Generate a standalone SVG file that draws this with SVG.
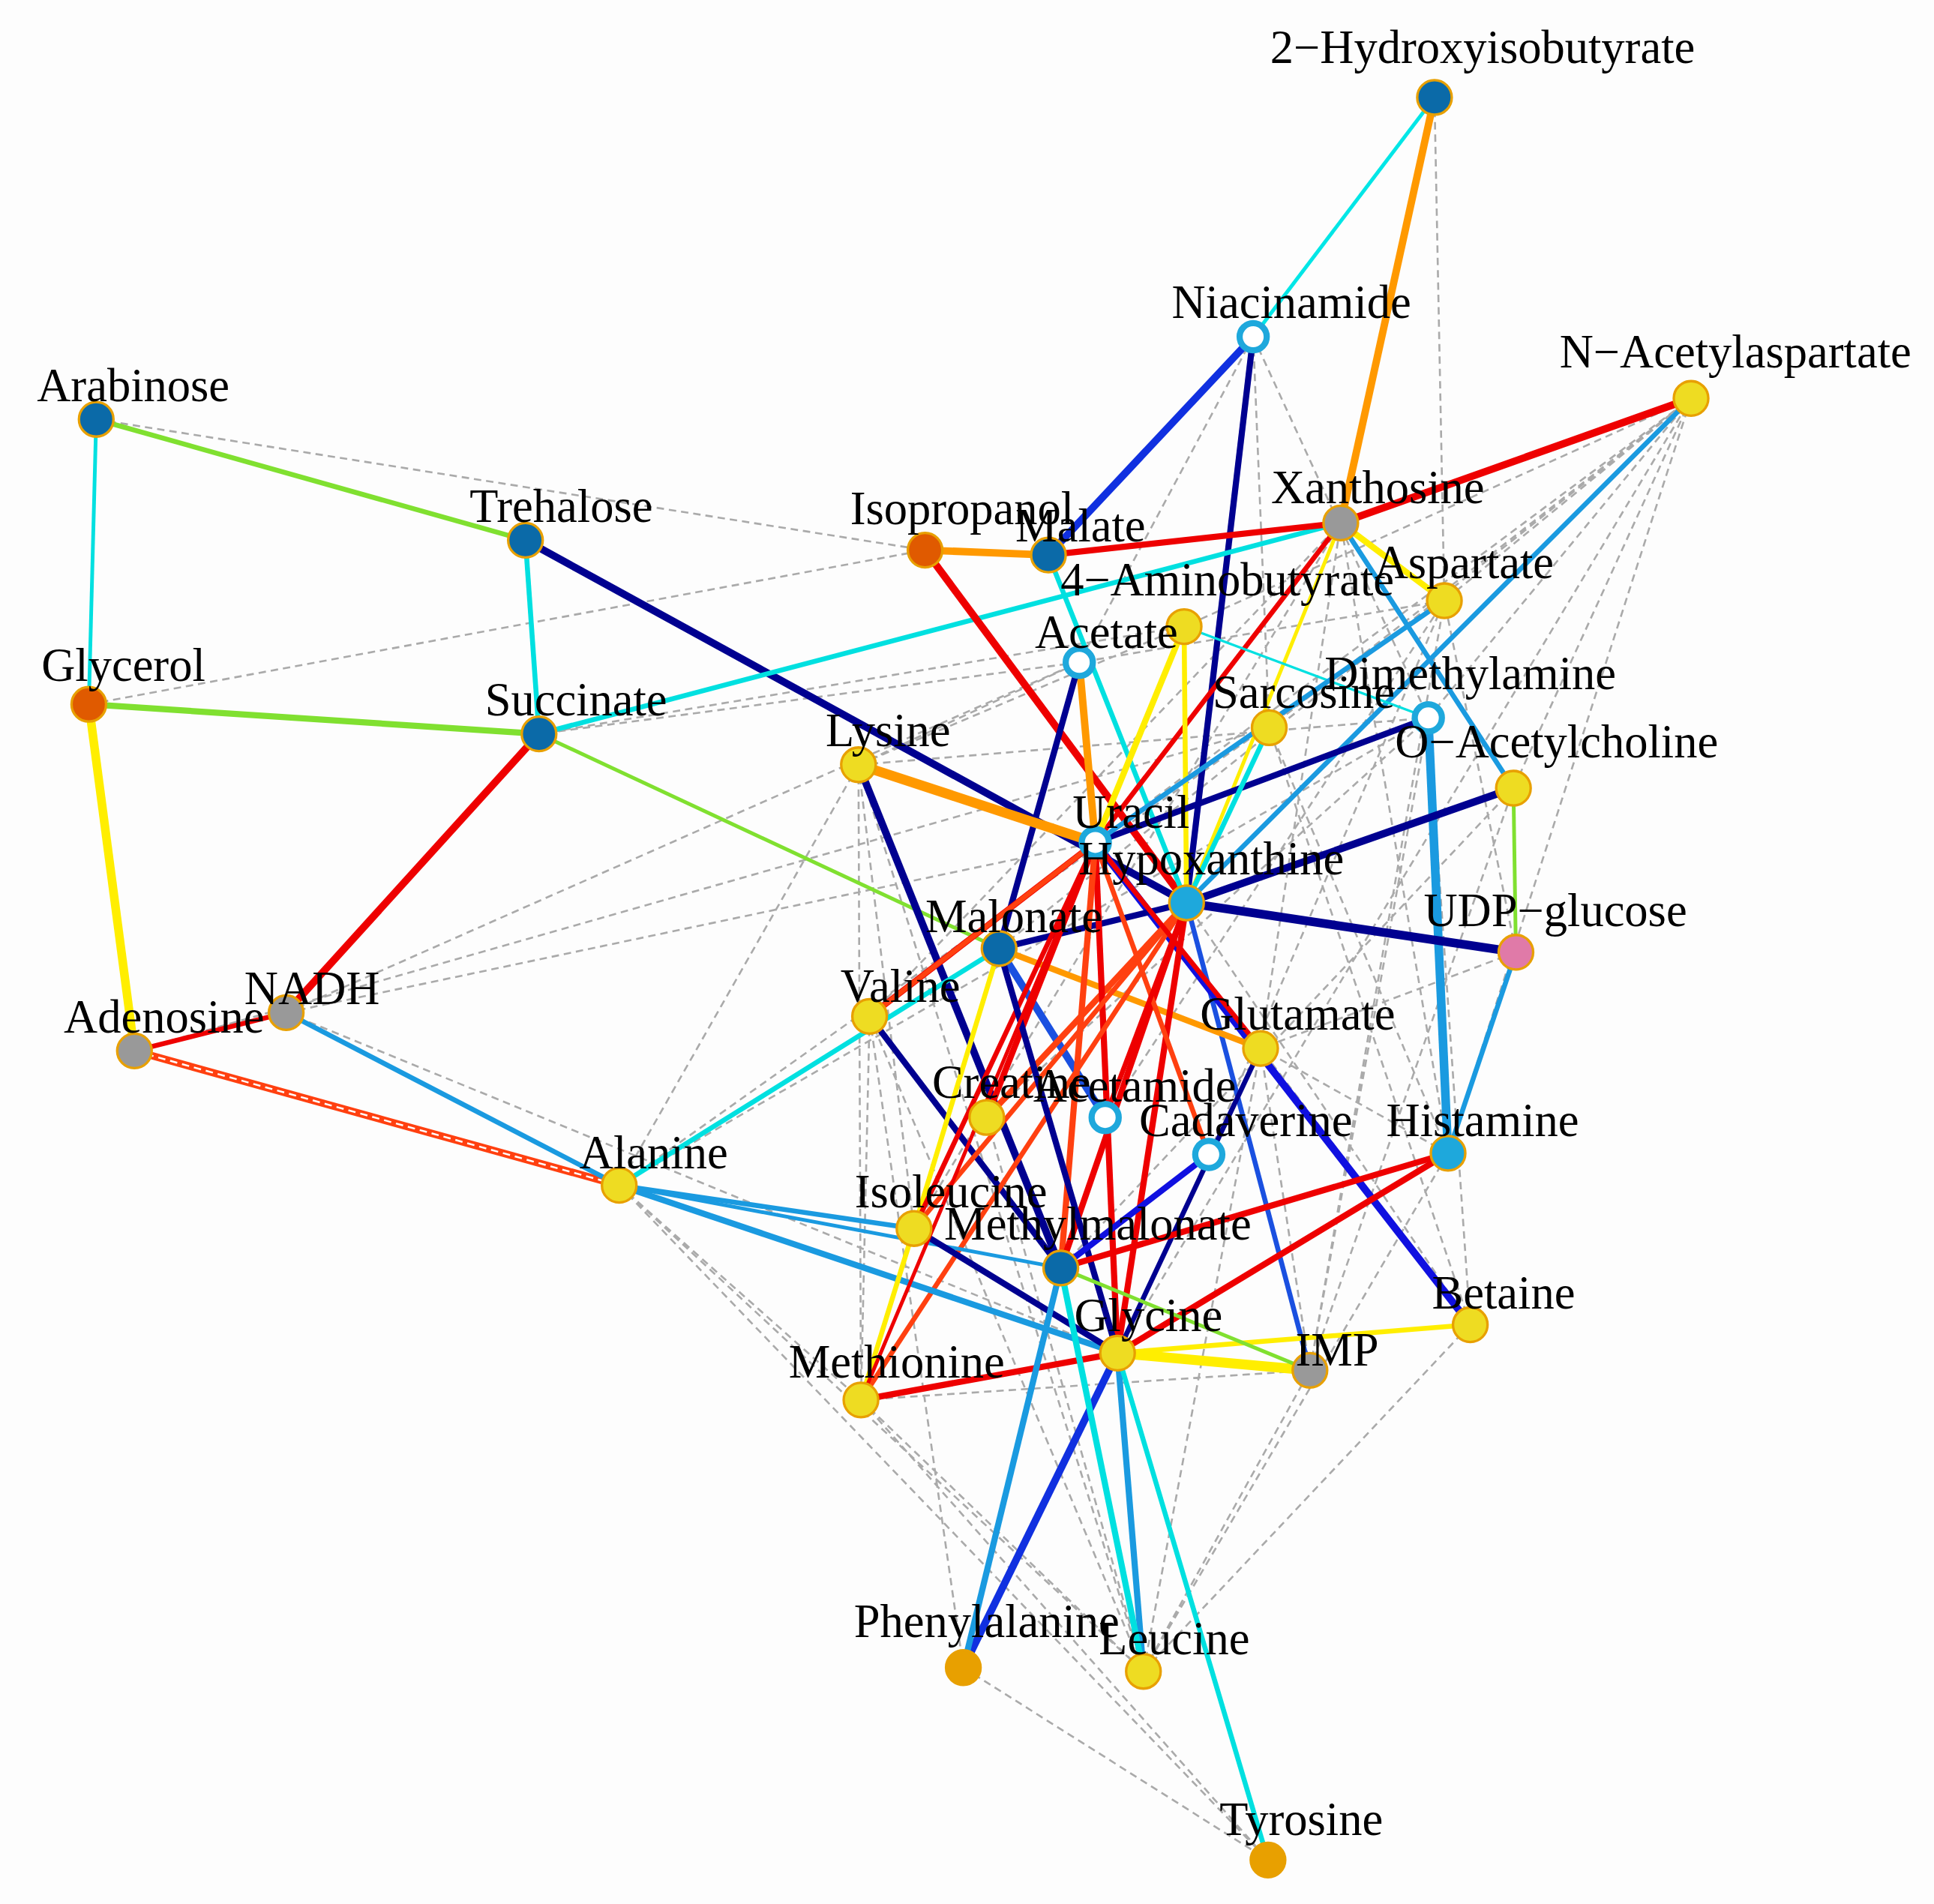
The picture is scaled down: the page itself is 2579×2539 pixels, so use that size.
<svg xmlns="http://www.w3.org/2000/svg" width="2579" height="2539" viewBox="0 0 2579 2539">
<style>
.d{stroke:#aaaaaa;stroke-width:1.6;stroke-dasharray:6,4;fill:none}
.e{fill:none;stroke-linecap:butt}
.n{stroke:#e8a000;stroke-width:2}
.db{fill:#0b6aa8}.ye{fill:#eedc22}.gr{fill:#999999}.or{fill:#e8a000}.rd{fill:#e05a00}.cb{fill:#1ea8dc}.pk{fill:#e07aa8}
.ho{fill:#ffffff;stroke:#1ea8dc;stroke-width:5}
text{font-family:"Liberation Serif",serif;font-size:38px;text-anchor:middle;fill:#000}
</style>
<rect width="2579" height="2539" fill="#fdfdfd"/>
<g transform="scale(1.6448)">
<g id="connectors">
<g class="d">
<path d="M1163 79L1016 273M1163 79L1087 424M1163 79L1171 487M1016 273L875 537M1016 273L1029 590M1016 273L1158 582M1371 323L1087 424M1371 323L1171 487M1371 323L1158 582M1371 323L960 508M1371 323L1227 639M1371 323L1029 590M1371 323L1174 935M78 340L750 446M72 571L750 446M437 595L960 508M437 595L1087 424M232 821L875 537M232 821L888 683M109 852L1029 590M696 620L875 537M696 620L1158 582M696 620L698 1135M696 620L741 996M696 620L927 1355M696 620L502 961M705 824L698 1135M705 824L927 1355M705 824L781 1352M705 824L1087 424M502 961L1171 487M502 961L698 1135M502 961L927 1355M502 961L1158 582M502 961L1028 1508M232 821L906 1097M698 1135L927 1355M698 1135L1028 1508M698 1135L1062 1111M781 1352L1028 1508M781 1352L906 1097M927 1355L1062 1111M927 1355L1174 935M927 1355L1192 1074M927 1355L1022 850M927 1355L800 906M1192 1074L1022 850M1192 1074L1158 582M1192 1074L1029 590M1192 1074L962 732M1174 935L1029 590M1174 935L1087 424M1174 935L1022 850M1062 1111L1227 639M1062 1111L1171 487M1062 1111L1022 850M1062 1111L1158 582M1229 772L1022 850M1229 772L1171 487M1227 639L1087 424M1022 850L1087 424M980 936L1171 487M896 906L1171 487M800 906L1158 582M741 996L1087 424M860 1028L1227 639M906 1097L1371 323M810 769L1371 323M888 683L1371 323M1171 487L875 537M960 508L696 620M875 537L437 595"/>
</g>
<g class="e">
<line x1="1163" y1="79" x2="1016" y2="273" stroke="#00e6e6" stroke-width="3"/>
<line x1="1163" y1="79" x2="1087" y2="424" stroke="#ff9900" stroke-width="6"/>
<line x1="1016" y1="273" x2="850" y2="450" stroke="#1030e0" stroke-width="6"/>
<line x1="1016" y1="273" x2="962" y2="732" stroke="#000090" stroke-width="5"/>
<line x1="1371" y1="323" x2="1087" y2="424" stroke="#ee0000" stroke-width="6"/>
<line x1="1371" y1="323" x2="962" y2="732" stroke="#1a9ae0" stroke-width="4"/>
<line x1="78" y1="340" x2="426" y2="438" stroke="#80e030" stroke-width="4"/>
<line x1="78" y1="340" x2="72" y2="571" stroke="#00e0e0" stroke-width="3"/>
<line x1="426" y1="438" x2="437" y2="595" stroke="#00e0e0" stroke-width="4"/>
<line x1="426" y1="438" x2="962" y2="732" stroke="#000090" stroke-width="6"/>
<line x1="72" y1="571" x2="437" y2="595" stroke="#80e030" stroke-width="5"/>
<line x1="72" y1="571" x2="109" y2="852" stroke="#ffee00" stroke-width="7"/>
<line x1="437" y1="595" x2="232" y2="821" stroke="#ee0000" stroke-width="6"/>
<line x1="437" y1="595" x2="1087" y2="424" stroke="#00e0e0" stroke-width="4"/>
<line x1="437" y1="595" x2="810" y2="769" stroke="#80e030" stroke-width="3"/>
<line x1="750" y1="446" x2="850" y2="450" stroke="#ff9900" stroke-width="6"/>
<line x1="750" y1="446" x2="962" y2="732" stroke="#ee0000" stroke-width="6"/>
<line x1="850" y1="450" x2="1087" y2="424" stroke="#ee0000" stroke-width="5"/>
<line x1="850" y1="450" x2="962" y2="732" stroke="#00e0e0" stroke-width="4"/>
<line x1="1087" y1="424" x2="1171" y2="487" stroke="#ffee00" stroke-width="5"/>
<line x1="1087" y1="424" x2="962" y2="732" stroke="#ffee00" stroke-width="3"/>
<line x1="1087" y1="424" x2="888" y2="683" stroke="#ee0000" stroke-width="4"/>
<line x1="1087" y1="424" x2="1227" y2="639" stroke="#1a9ae0" stroke-width="4"/>
<line x1="960" y1="508" x2="888" y2="683" stroke="#ffee00" stroke-width="5"/>
<line x1="960" y1="508" x2="962" y2="732" stroke="#ffee00" stroke-width="4"/>
<line x1="960" y1="508" x2="1158" y2="582" stroke="#00e0e0" stroke-width="2"/>
<line x1="875" y1="537" x2="888" y2="683" stroke="#ff9900" stroke-width="6"/>
<line x1="875" y1="537" x2="810" y2="769" stroke="#000090" stroke-width="5"/>
<line x1="696" y1="620" x2="888" y2="683" stroke="#ff9900" stroke-width="8"/>
<line x1="696" y1="620" x2="860" y2="1028" stroke="#000090" stroke-width="6"/>
<line x1="1158" y1="582" x2="1174" y2="935" stroke="#1a9ae0" stroke-width="7"/>
<line x1="1158" y1="582" x2="888" y2="683" stroke="#000090" stroke-width="5"/>
<line x1="1171" y1="487" x2="888" y2="683" stroke="#1a9ae0" stroke-width="4"/>
<line x1="1029" y1="590" x2="962" y2="732" stroke="#00e0e0" stroke-width="4"/>
<line x1="1227" y1="639" x2="1229" y2="772" stroke="#80e030" stroke-width="3"/>
<line x1="1227" y1="639" x2="962" y2="732" stroke="#000090" stroke-width="6"/>
<line x1="962" y1="732" x2="1229" y2="772" stroke="#000090" stroke-width="7"/>
<line x1="962" y1="732" x2="1062" y2="1111" stroke="#1a50e0" stroke-width="4"/>
<line x1="888" y1="683" x2="1192" y2="1074" stroke="#1010e0" stroke-width="6"/>
<line x1="1229" y1="772" x2="1174" y2="935" stroke="#1a9ae0" stroke-width="4"/>
<line x1="109" y1="852" x2="232" y2="821" stroke="#ee0000" stroke-width="4"/>
<line x1="109" y1="852" x2="502" y2="961" stroke="#ff4010" stroke-width="6"/>
<line x1="109" y1="852" x2="502" y2="961" stroke="#ffffff" stroke-width="1.5" stroke-dasharray="6,4"/>
<line x1="232" y1="821" x2="502" y2="961" stroke="#1a9ae0" stroke-width="4"/>
<line x1="705" y1="824" x2="888" y2="683" stroke="#ee0000" stroke-width="5"/>
<line x1="502" y1="961" x2="810" y2="769" stroke="#00e0e0" stroke-width="4"/>
<line x1="705" y1="824" x2="860" y2="1028" stroke="#000090" stroke-width="5"/>
<line x1="810" y1="769" x2="741" y2="996" stroke="#ffee00" stroke-width="4"/>
<line x1="810" y1="769" x2="896" y2="906" stroke="#1a50e0" stroke-width="6"/>
<line x1="810" y1="769" x2="1022" y2="850" stroke="#ff9900" stroke-width="5"/>
<line x1="810" y1="769" x2="962" y2="732" stroke="#000090" stroke-width="5"/>
<line x1="888" y1="683" x2="800" y2="906" stroke="#ee0000" stroke-width="5"/>
<line x1="962" y1="732" x2="800" y2="906" stroke="#ff4010" stroke-width="5"/>
<line x1="888" y1="683" x2="906" y2="1097" stroke="#ee0000" stroke-width="5"/>
<line x1="962" y1="732" x2="906" y2="1097" stroke="#ee0000" stroke-width="5"/>
<line x1="888" y1="683" x2="860" y2="1028" stroke="#ff4010" stroke-width="5"/>
<line x1="962" y1="732" x2="860" y2="1028" stroke="#ee0000" stroke-width="5"/>
<line x1="888" y1="683" x2="741" y2="996" stroke="#ee0000" stroke-width="4"/>
<line x1="962" y1="732" x2="741" y2="996" stroke="#ff4010" stroke-width="4"/>
<line x1="962" y1="732" x2="698" y2="1135" stroke="#ff4010" stroke-width="4"/>
<line x1="888" y1="683" x2="1022" y2="850" stroke="#ee0000" stroke-width="4"/>
<line x1="888" y1="683" x2="980" y2="936" stroke="#ff4010" stroke-width="4"/>
<line x1="962" y1="732" x2="896" y2="906" stroke="#ee0000" stroke-width="4"/>
<line x1="888" y1="683" x2="705" y2="824" stroke="#ff4010" stroke-width="4"/>
<line x1="810" y1="769" x2="906" y2="1097" stroke="#000090" stroke-width="5"/>
<line x1="980" y1="936" x2="860" y2="1028" stroke="#1010e0" stroke-width="5"/>
<line x1="1022" y1="850" x2="906" y2="1097" stroke="#000090" stroke-width="4"/>
<line x1="502" y1="961" x2="741" y2="996" stroke="#1a9ae0" stroke-width="4"/>
<line x1="502" y1="961" x2="906" y2="1097" stroke="#1a9ae0" stroke-width="5"/>
<line x1="502" y1="961" x2="860" y2="1028" stroke="#1a9ae0" stroke-width="3"/>
<line x1="741" y1="996" x2="698" y2="1135" stroke="#ffee00" stroke-width="4"/>
<line x1="741" y1="996" x2="906" y2="1097" stroke="#000090" stroke-width="5"/>
<line x1="906" y1="1097" x2="1174" y2="935" stroke="#ee0000" stroke-width="5"/>
<line x1="860" y1="1028" x2="1174" y2="935" stroke="#ee0000" stroke-width="5"/>
<line x1="906" y1="1097" x2="698" y2="1135" stroke="#ee0000" stroke-width="5"/>
<line x1="906" y1="1097" x2="1192" y2="1074" stroke="#ffee00" stroke-width="4"/>
<line x1="906" y1="1097" x2="1062" y2="1111" stroke="#ffee00" stroke-width="8"/>
<line x1="860" y1="1028" x2="1062" y2="1111" stroke="#80e030" stroke-width="3"/>
<line x1="906" y1="1097" x2="781" y2="1352" stroke="#1030e0" stroke-width="6"/>
<line x1="860" y1="1028" x2="781" y2="1352" stroke="#1a9ae0" stroke-width="5"/>
<line x1="906" y1="1097" x2="927" y2="1355" stroke="#1a9ae0" stroke-width="5"/>
<line x1="860" y1="1028" x2="927" y2="1355" stroke="#00e0e0" stroke-width="5"/>
<line x1="906" y1="1097" x2="1028" y2="1508" stroke="#00e0e0" stroke-width="4"/>
<line x1="698" y1="1135" x2="888" y2="683" stroke="#ee0000" stroke-width="3"/>
</g>
</g>
<g id="n-2HIB"><circle class="n db" cx="1163" cy="79" r="14"/><text x="1202" y="51">2−Hydroxyisobutyrate</text></g>
<g id="n-Niacinamide"><circle class="ho" cx="1016" cy="273" r="11"/><text x="1047" y="258">Niacinamide</text></g>
<g id="n-NAA"><circle class="n ye" cx="1371" cy="323" r="14"/><text x="1407" y="298">N−Acetylaspartate</text></g>
<g id="n-Arabinose"><circle class="n db" cx="78" cy="340" r="14"/><text x="108" y="325">Arabinose</text></g>
<g id="n-Trehalose"><circle class="n db" cx="426" cy="438" r="14"/><text x="455" y="423">Trehalose</text></g>
<g id="n-Isopropanol"><circle class="n rd" cx="750" cy="446" r="14"/><text x="780" y="425">Isopropanol</text></g>
<g id="n-Malate"><circle class="n db" cx="850" cy="450" r="14"/><text x="876" y="439">Malate</text></g>
<g id="n-Xanthosine"><circle class="n gr" cx="1087" cy="424" r="14"/><text x="1117" y="408">Xanthosine</text></g>
<g id="n-4AB"><circle class="n ye" cx="960" cy="508" r="14"/><text x="995" y="483">4−Aminobutyrate</text></g>
<g id="n-Aspartate"><circle class="n ye" cx="1171" cy="487" r="14"/><text x="1187" y="469">Aspartate</text></g>
<g id="n-Acetate"><circle class="ho" cx="875" cy="537" r="11"/><text x="897" y="525">Acetate</text></g>
<g id="n-Glycerol"><circle class="n rd" cx="72" cy="571" r="14"/><text x="100" y="552">Glycerol</text></g>
<g id="n-Succinate"><circle class="n db" cx="437" cy="595" r="14"/><text x="467" y="580">Succinate</text></g>
<g id="n-Dimethylamine"><circle class="ho" cx="1158" cy="582" r="11"/><text x="1192" y="559">Dimethylamine</text></g>
<g id="n-Sarcosine"><circle class="n ye" cx="1029" cy="590" r="14"/><text x="1057" y="574">Sarcosine</text></g>
<g id="n-Lysine"><circle class="n ye" cx="696" cy="620" r="14"/><text x="720" y="605">Lysine</text></g>
<g id="n-OAcetylcholine"><circle class="n ye" cx="1227" cy="639" r="14"/><text x="1262" y="614">O−Acetylcholine</text></g>
<g id="n-Uracil"><circle class="ho" cx="888" cy="683" r="11"/><text x="917" y="671">Uracil</text></g>
<g id="n-Hypoxanthine"><circle class="n cb" cx="962" cy="732" r="14"/><text x="982" y="709">Hypoxanthine</text></g>
<g id="n-Malonate"><circle class="n db" cx="810" cy="769" r="14"/><text x="822" y="756">Malonate</text></g>
<g id="n-UDPglucose"><circle class="n pk" cx="1229" cy="772" r="14"/><text x="1261" y="751">UDP−glucose</text></g>
<g id="n-NADH"><circle class="n gr" cx="232" cy="821" r="14"/><text x="253" y="814">NADH</text></g>
<g id="n-Adenosine"><circle class="n gr" cx="109" cy="852" r="14"/><text x="133" y="837">Adenosine</text></g>
<g id="n-Valine"><circle class="n ye" cx="705" cy="824" r="14"/><text x="730" y="812">Valine</text></g>
<g id="n-Glutamate"><circle class="n ye" cx="1022" cy="850" r="14"/><text x="1052" y="835">Glutamate</text></g>
<g id="n-Creatine"><circle class="n ye" cx="800" cy="906" r="14"/><text x="820" y="890">Creatine</text></g>
<g id="n-Acetamide"><circle class="ho" cx="896" cy="906" r="11"/><text x="920" y="893">Acetamide</text></g>
<g id="n-Cadaverine"><circle class="ho" cx="980" cy="936" r="11"/><text x="1010" y="921">Cadaverine</text></g>
<g id="n-Histamine"><circle class="n cb" cx="1174" cy="935" r="14"/><text x="1202" y="921">Histamine</text></g>
<g id="n-Alanine"><circle class="n ye" cx="502" cy="961" r="14"/><text x="530" y="947">Alanine</text></g>
<g id="n-Isoleucine"><circle class="n ye" cx="741" cy="996" r="14"/><text x="771" y="979">Isoleucine</text></g>
<g id="n-Methylmalonate"><circle class="n db" cx="860" cy="1028" r="14"/><text x="890" y="1005">Methylmalonate</text></g>
<g id="n-Glycine"><circle class="n ye" cx="906" cy="1097" r="14"/><text x="931" y="1079">Glycine</text></g>
<g id="n-Betaine"><circle class="n ye" cx="1192" cy="1074" r="14"/><text x="1219" y="1061">Betaine</text></g>
<g id="n-IMP"><circle class="n gr" cx="1062" cy="1111" r="14"/><text x="1084" y="1107">IMP</text></g>
<g id="n-Methionine"><circle class="n ye" cx="698" cy="1135" r="14"/><text x="727" y="1117">Methionine</text></g>
<g id="n-Phenylalanine"><circle class="n or" cx="781" cy="1352" r="14"/><text x="800" y="1327">Phenylalanine</text></g>
<g id="n-Leucine"><circle class="n ye" cx="927" cy="1355" r="14"/><text x="952" y="1341">Leucine</text></g>
<g id="n-Tyrosine"><circle class="n or" cx="1028" cy="1508" r="14"/><text x="1055" y="1488">Tyrosine</text></g>
</g>
</svg>
